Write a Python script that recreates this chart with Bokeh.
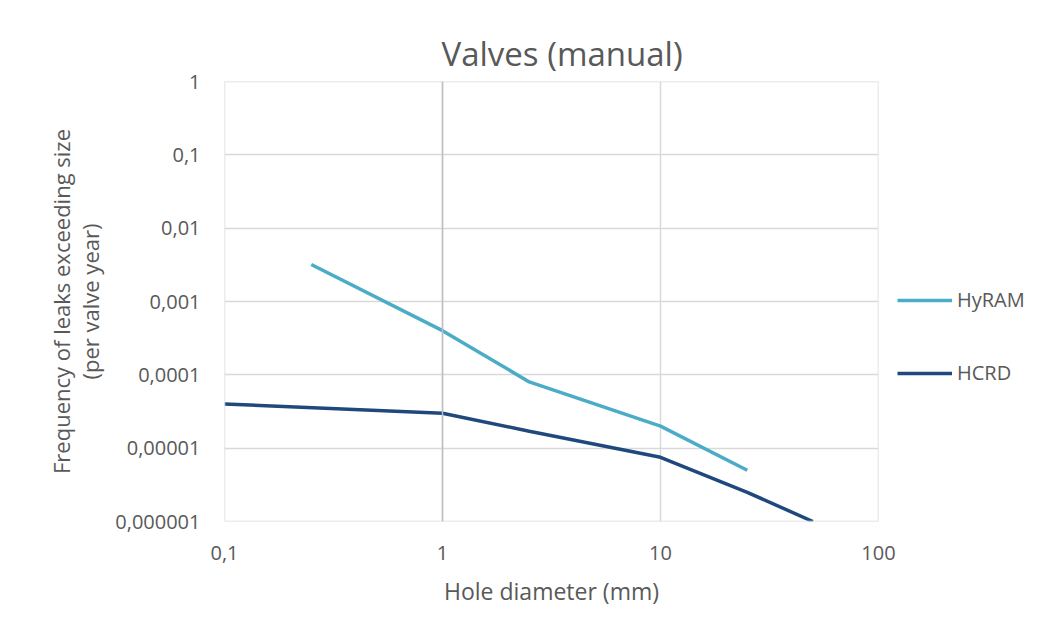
from bokeh.plotting import figure
from bokeh.embed import file_html
from bokeh.resources import INLINE
from bokeh.models import FixedTicker, CustomJSTickFormatter, Legend, LegendItem, Span

# ---- data ----
hyram_x = [0.25, 1, 2.5, 10, 25]
hyram_y = [0.0032, 0.0004, 0.00008, 0.00002, 0.000005]
hcrd_x = [0.1, 1, 2.5, 10, 25, 50]
hcrd_y = [0.00004, 0.00003, 0.000017, 0.0000075, 0.0000025, 0.000001]

x_ticks = [0.1, 1, 10, 100]
x_tick_labels = ["0,1", "1", "10", "100"]
y_ticks = [0.000001, 0.00001, 0.0001, 0.001, 0.01, 0.1, 1]
y_tick_labels = ["0,000001", "0,00001", "0,0001", "0,001", "0,01", "0,1", "1"]

GRAY = "#595959"
GRID = "#d9d9d9"
FONT = "Open Sans"

p = figure(frame_width=654, frame_height=440, x_axis_type="log", y_axis_type="log",
           x_range=(0.1, 100), y_range=(1e-6, 1),
           output_backend="svg", toolbar_location=None,
           min_border_left=224, min_border_right=167, min_border_top=81, min_border_bottom=98)
p.outline_line_color = None
p.background_fill_color = "white"
p.border_fill_color = "white"

p.title.text = "Valves (manual)"
p.title.align = "left"
p.title.offset = 217
p.title.text_font = FONT
p.title.text_font_size = "33px"
p.title.text_font_style = "normal"
p.title.text_color = GRAY
p.title.standoff = 12

code = """
let best = 0; let bd = Infinity;
for (let i = 0; i < tv.length; i++) {
  const d = Math.abs(Math.log10(tv[i]) - Math.log10(tick));
  if (d < bd) { bd = d; best = i; }
}
return tl[best];
"""
p.xaxis.ticker = FixedTicker(ticks=x_ticks)
p.yaxis.ticker = FixedTicker(ticks=y_ticks)
p.xaxis.formatter = CustomJSTickFormatter(args=dict(tv=x_ticks, tl=x_tick_labels), code=code)
p.yaxis.formatter = CustomJSTickFormatter(args=dict(tv=y_ticks, tl=y_tick_labels), code=code)

for ax in (p.xaxis, p.yaxis):
    ax.axis_line_color = None
    ax.major_tick_line_color = None
    ax.minor_tick_line_color = None
    ax.major_label_text_font = FONT
    ax.major_label_text_font_size = "20px"
    ax.major_label_text_color = GRAY
    ax.axis_label_text_font = FONT
    ax.axis_label_text_font_style = "normal"
    ax.axis_label_text_color = GRAY

p.xaxis.axis_label_text_font_size = "23px"
p.yaxis.axis_label_text_font_size = "22px"
p.xaxis.major_label_standoff = 18
p.yaxis.major_label_standoff = 18
p.xaxis.axis_label = "Hole diameter (mm)"
p.xaxis.axis_label_standoff = 12
p.yaxis.axis_label = "Frequency of leaks exceeding size\n(per valve year)"
p.yaxis.axis_label_standoff = 7
p.yaxis.axis_label_text_line_height = 0.97

p.xgrid.grid_line_color = GRID
p.ygrid.grid_line_color = GRID
p.xgrid.grid_line_width = 1.5
p.ygrid.grid_line_width = 1.5

# edge gridlines (Bokeh omits grid lines at the range bounds)
for xv in (x_ticks[0], x_ticks[-1]):
    p.add_layout(Span(location=xv, dimension="height", line_color=GRID, line_width=1.5))
for yv in (y_ticks[0], y_ticks[-1]):
    p.add_layout(Span(location=yv, dimension="width", line_color=GRID, line_width=1.5))
# vertical axis crosses at 1
p.add_layout(Span(location=1, dimension="height", line_color="#bfbfbf", line_width=1.5))

r1 = p.line(hyram_x, hyram_y, line_color="#4bacc6", line_width=3.5)
r2 = p.line(hcrd_x, hcrd_y, line_color="#1f497d", line_width=3.5)

legend = Legend(items=[LegendItem(label="HyRAM", renderers=[r1]),
                       LegendItem(label="HCRD", renderers=[r2])],
                location=(19, 135), orientation="vertical",
                glyph_width=55, glyph_height=20, label_height=20, spacing=46,
                padding=0, margin=0, label_standoff=5,
                background_fill_alpha=0, border_line_color=None,
                label_text_font=FONT, label_text_font_size="20px", label_text_color=GRAY)
p.add_layout(legend, "right")

open("out.html", "w").write(file_html(p, INLINE))
